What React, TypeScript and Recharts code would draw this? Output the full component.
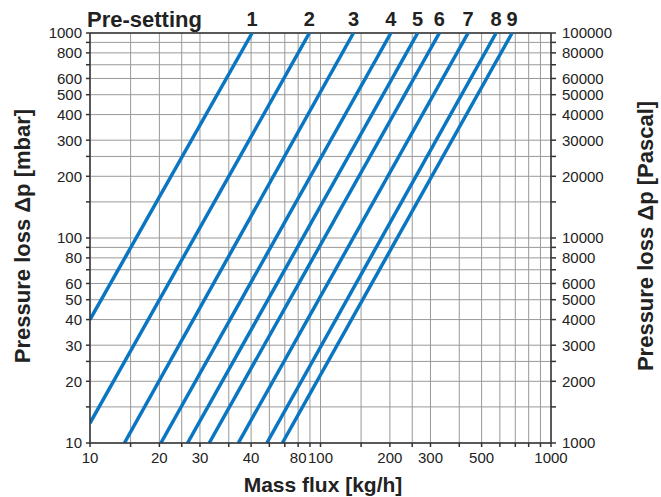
import { LineChart, Line, XAxis, YAxis, CartesianGrid, ReferenceLine } from 'recharts';

// Pre-setting curves, each a straight line on log-log paper (start and end point)
const presets = ['1', '2', '3', '4', '5', '6', '7', '8', '9'];
const flowStart = [10, 10, 14.1, 20.3, 26.5, 32.9, 44, 58.5, 68.3];
const dpStart = [40, 12.5, 10, 10, 10, 10, 10, 10, 10];
const flowEnd = [50.5, 89.5, 139, 202, 264, 328, 437, 578, 678];
const dpEnd = [1000, 1000, 1000, 1000, 1000, 1000, 1000, 1000, 1000];

// grid / ticks
const xGrid = [10, 15, 20, 25, 30, 40, 50, 60, 70, 80, 90, 100, 150, 200, 250, 300, 400, 500, 600, 700, 800, 900, 1000];
const xLabelAt = [10, 20, 30, 50, 80, 100, 200, 300, 500, 1000];
const xLabelText = ['10', '20', '30', '40', '80', '100', '200', '300', '500', '1000'];
const yGrid = [10, 15, 20, 25, 30, 40, 50, 60, 70, 80, 90, 100, 150, 200, 250, 300, 400, 500, 600, 700, 800, 900, 1000];
const yLabels = [10, 20, 30, 40, 50, 60, 80, 100, 200, 300, 400, 500, 600, 800, 1000];
const paGrid = yGrid.map((v) => v * 100);
const paLabels = yLabels.map((v) => v * 100);

const series = presets.map((name, i) => ({
  name,
  data: [
    { m: flowStart[i], dp: dpStart[i] },
    { m: flowEnd[i], dp: dpEnd[i] },
  ],
}));

const FONT = '"Liberation Sans", Arial, sans-serif';
const BLUE = '#0a76c2';
const TEXT = '#222';

const xFmt = (v: number) => {
  const k = xLabelAt.indexOf(v);
  return k >= 0 ? xLabelText[k] : '';
};
const yFmt = (v: number) => (yLabels.includes(v) ? String(v) : '');
const paFmt = (v: number) => (paLabels.includes(v) ? String(v) : '');

const endLabel = (name: string) => (props: any) => {
  if (props.index !== 1) return null;
  return (
    <text x={props.x} y={props.y - 7} textAnchor="middle" fontSize={20} fontWeight="bold" fill={TEXT} fontFamily={FONT}>
      {name}
    </text>
  );
};

export default function App() {
  return (
    <div style={{ position: 'absolute', left: 0, top: 0, width: 661, height: 497, background: '#fff', fontFamily: FONT }}>
      <LineChart width={661} height={497} margin={{ top: 33, right: 0, left: 0, bottom: 0 }}>
        <CartesianGrid stroke="#999" strokeWidth={1} />
        <XAxis
          dataKey="m"
          type="number"
          scale="log"
          domain={[10, 1000]}
          allowDataOverflow
          ticks={xGrid}
          interval={0}
          tickFormatter={xFmt}
          height={54}
          tickSize={4}
          tickMargin={5}
          stroke="#333"
          strokeWidth={1.5}
          tick={{ fill: TEXT, fontSize: 15, fontFamily: FONT }}
        />
        <YAxis
          dataKey="dp"
          type="number"
          scale="log"
          domain={[10, 1000]}
          allowDataOverflow
          ticks={yGrid}
          interval={0}
          tickFormatter={yFmt}
          width={90}
          tickSize={4}
          tickMargin={4}
          stroke="#333"
          strokeWidth={1.5}
          tick={{ fill: TEXT, fontSize: 15, fontFamily: FONT }}
        />
        <YAxis
          yAxisId="pa"
          orientation="right"
          type="number"
          scale="log"
          domain={[1000, 100000]}
          allowDataOverflow
          ticks={paGrid}
          interval={0}
          tickFormatter={paFmt}
          width={110}
          tickSize={5}
          tickMargin={6}
          stroke="#333"
          strokeWidth={1.5}
          tick={{ fill: TEXT, fontSize: 15, fontFamily: FONT }}
        />
        <ReferenceLine y={1000} stroke="#333" strokeWidth={1.5} />
        {series.map((s) => (
          <Line
            key={s.name}
            data={s.data}
            dataKey="dp"
            type="linear"
            stroke={BLUE}
            strokeWidth={3.5}
            dot={false}
            isAnimationActive={false}
            label={endLabel(s.name)}
          />
        ))}
      </LineChart>
      <svg width={661} height={497} style={{ position: 'absolute', left: 0, top: 0, pointerEvents: 'none' }}>
        <text x={87} y={27} fontSize={22} fontWeight="bold" fill={TEXT} fontFamily={FONT}>
          Pre-setting
        </text>
        <text x={323} y={492} textAnchor="middle" fontSize={21} fontWeight="bold" fill={TEXT} fontFamily={FONT}>
          Mass flux [kg/h]
        </text>
        <text
          transform="translate(30,236) rotate(-90)"
          textAnchor="middle"
          fontSize={22}
          fontWeight="bold"
          fill={TEXT}
          fontFamily={FONT}
        >
          Pressure loss Δp [mbar]
        </text>
        <text
          transform="translate(653,236) rotate(-90)"
          textAnchor="middle"
          fontSize={22}
          fontWeight="bold"
          fill={TEXT}
          fontFamily={FONT}
        >
          Pressure loss Δp [Pascal]
        </text>
      </svg>
    </div>
  );
}
